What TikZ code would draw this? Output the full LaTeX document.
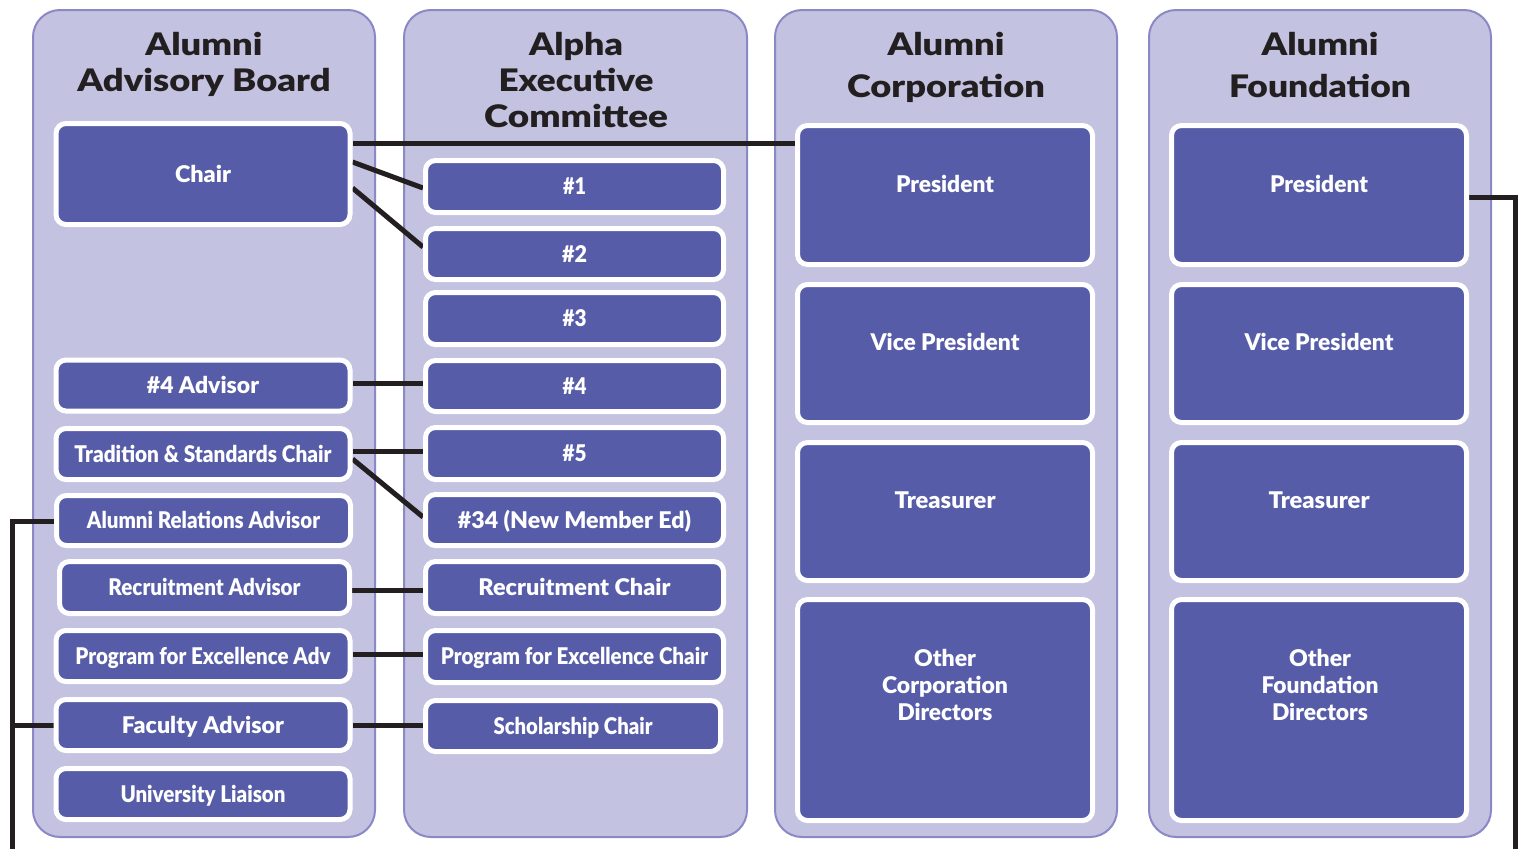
\documentclass[tikz,border=0pt]{standalone}
\usepackage{fontspec}
\usepackage{graphicx}
\setmainfont{Lato}[BoldFont={Lato Black}]
\usetikzlibrary{calc}
\definecolor{colfill}{HTML}{C3C2E1}
\definecolor{colline}{HTML}{8A89C6}
\definecolor{boxfill}{HTML}{565CA8}
\definecolor{ink}{HTML}{231F20}
\newcommand{\fw}[2]{\resizebox{#1pt}{\height}{#2}}
\pgfdeclarelayer{bg}
\pgfdeclarelayer{conn}
\pgfsetlayers{bg,conn,main}
\tikzset{
  column/.style={draw=colline, line width=2pt, fill=colfill, rounded corners=27pt, inner sep=0pt},
  orgbox/.style={draw=white, line width=5pt, fill=boxfill, rounded corners=10pt, inner sep=0pt,
    text=white, font=\bfseries\fontsize{23}{27}\selectfont, text height=16.6pt, text depth=0pt},
  lbl/.style={inner sep=0pt, text=white, font=\bfseries\fontsize{23}{27}\selectfont, text height=16.6pt, text depth=0pt},
  hdr/.style={inner sep=0pt, text=ink, font=\bfseries\fontsize{31}{35}\selectfont, text height=22pt, text depth=0pt},
  conn/.style={draw=ink, line width=5pt, line join=miter}
}
\begin{document}
\begin{tikzpicture}[x=1pt,y=-1pt]
\useasboundingbox (0,0) rectangle (1521,849);
\begin{pgfonlayer}{bg}
\fill[white] (0,0) rectangle (1521,849);
\node[column, minimum width=342pt, minimum height=827pt] (col1) at (204,423.5) {};
\node[column, minimum width=343pt, minimum height=827pt] (col2) at (575.5,423.5) {};
\node[column, minimum width=342pt, minimum height=827pt] (col3) at (946,423.5) {};
\node[column, minimum width=342pt, minimum height=827pt] (col4) at (1320,423.5) {};
\end{pgfonlayer}

% headers
\node[hdr] (h1a) at (204,44) {\fw{117}{Alumni}};
\node[hdr] (h1b) at (204,80.5) {\fw{253}{Advisory Board}};
\node[hdr] (h2a) at (576,44) {\fw{94}{Alpha}};
\node[hdr] (h2b) at (576,80) {\fw{155}{Executive}};
\node[hdr] (h2c) at (576,116) {\fw{184}{Committee}};
\node[hdr] (h3a) at (946,44) {\fw{117}{Alumni}};
\node[hdr] (h3b) at (946,86) {\fw{198}{Corporation}};
\node[hdr] (h4a) at (1320,44) {\fw{117}{Alumni}};
\node[hdr] (h4b) at (1320,86) {\fw{182}{Foundation}};

% column 1
\node[orgbox, minimum width=294pt, minimum height=101pt] (chair) at (203,174) {\fw{56}{Chair}};
\node[orgbox, minimum width=294pt, minimum height=51pt] (adv4) at (203,385.5) {\fw{112}{\#4 Advisor}};
\node[orgbox, minimum width=294pt, minimum height=51pt] (trad) at (203,454) {\fw{257}{Tradition \& Standards Chair}};
\node[orgbox, minimum width=294pt, minimum height=50pt] (arel) at (203.5,520.5) {\fw{233}{Alumni Relations Advisor}};
\node[orgbox, minimum width=290pt, minimum height=52pt] (radv) at (204.5,587.5) {\fw{192}{Recruitment Advisor}};
\node[orgbox, minimum width=294pt, minimum height=51pt] (padv) at (203,656) {\fw{255}{Program for Excellence Adv}};
\node[orgbox, minimum width=294pt, minimum height=51pt] (fadv) at (203,725) {\fw{162}{Faculty Advisor}};
\node[orgbox, minimum width=294pt, minimum height=51pt] (uni) at (203,794) {\fw{165}{University Liaison}};

% column 2
\node[orgbox, minimum width=298pt, minimum height=52pt] (e1) at (574.5,186.5) {\fw{23}{\#1}};
\node[orgbox, minimum width=298pt, minimum height=51pt] (e2) at (574.5,254) {\fw{25}{\#2}};
\node[orgbox, minimum width=298pt, minimum height=52pt] (e3) at (574.5,318.5) {\fw{24}{\#3}};
\node[orgbox, minimum width=298pt, minimum height=51pt] (e4) at (574.5,386) {\fw{24}{\#4}};
\node[orgbox, minimum width=298pt, minimum height=52pt] (e5) at (574.5,453.5) {\fw{24}{\#5}};
\node[orgbox, minimum width=298pt, minimum height=51pt] (e34) at (574.5,520) {\fw{233}{\#34 (New Member Ed)}};
\node[orgbox, minimum width=298pt, minimum height=52pt] (rch) at (574.5,587.5) {\fw{192}{Recruitment Chair}};
\node[orgbox, minimum width=298pt, minimum height=52pt] (pch) at (574.5,656.5) {\fw{267}{Program for Excellence Chair}};
\node[orgbox, minimum width=295pt, minimum height=51pt] (sch) at (573,726) {\fw{159}{Scholarship Chair}};

% column 3
\node[orgbox, minimum width=295pt, minimum height=139pt] (cpres) at (945,195) {};
\node[orgbox, minimum width=295pt, minimum height=138pt] (cvp) at (945,353.5) {};
\node[orgbox, minimum width=295pt, minimum height=138pt] (ctre) at (945,511.5) {};
\node[orgbox, minimum width=295pt, minimum height=221pt] (coth) at (945,710) {};
\node[lbl] (cpresL) at (945,184) {\fw{98}{President}};
\node[lbl] (cvpL) at (945,342) {\fw{149}{Vice President}};
\node[lbl] (ctreL) at (945,500) {\fw{101}{Treasurer}};
\node[lbl] (cothA) at (945,658) {\fw{62}{Other}};
\node[lbl] (cothB) at (945,685) {\fw{126}{Corporation}};
\node[lbl] (cothC) at (945,712) {\fw{95}{Directors}};

% column 4
\node[orgbox, minimum width=295pt, minimum height=139pt] (fpres) at (1319,195) {};
\node[orgbox, minimum width=295pt, minimum height=138pt] (fvp) at (1319,353.5) {};
\node[orgbox, minimum width=295pt, minimum height=138pt] (ftre) at (1319,511.5) {};
\node[orgbox, minimum width=295pt, minimum height=221pt] (foth) at (1319,710) {};
\node[lbl] (fpresL) at (1319,184) {\fw{98}{President}};
\node[lbl] (fvpL) at (1319,342) {\fw{149}{Vice President}};
\node[lbl] (ftreL) at (1319,500) {\fw{101}{Treasurer}};
\node[lbl] (fothA) at (1320,658) {\fw{62}{Other}};
\node[lbl] (fothB) at (1320,685) {\fw{117}{Foundation}};
\node[lbl] (fothC) at (1320,712) {\fw{96}{Directors}};

\coordinate (lb) at (12,849);
\coordinate (rb) at (1515,849);

\begin{pgfonlayer}{conn}
\draw[conn] (chair.east |- 0,143) -- (cpres.west |- 0,143);
\draw[conn] (chair.east |- 0,162) -- (e1.west |- 0,188);
\draw[conn] (chair.east |- 0,188) -- (e2.west |- 0,247);
\draw[conn] (adv4.east |- 0,383) -- (e4.west |- 0,383);
\draw[conn] (trad.east |- 0,451) -- (e5.west |- 0,451);
\draw[conn] (trad.east |- 0,459) -- (e34.west |- 0,517);
\draw[conn] (radv.east |- 0,590) -- (rch.west |- 0,590);
\draw[conn] (padv.east |- 0,654) -- (pch.west |- 0,654);
\draw[conn] (fadv.east |- 0,725) -- (sch.west |- 0,725);
\draw[conn] (arel.west |- 0,521) -| (lb);
\draw[conn] (fadv.west |- 0,725) -- (lb |- 0,725);
\draw[conn] (fpres.east |- 0,197) -| (rb);
\end{pgfonlayer}
\end{tikzpicture}
\end{document}
